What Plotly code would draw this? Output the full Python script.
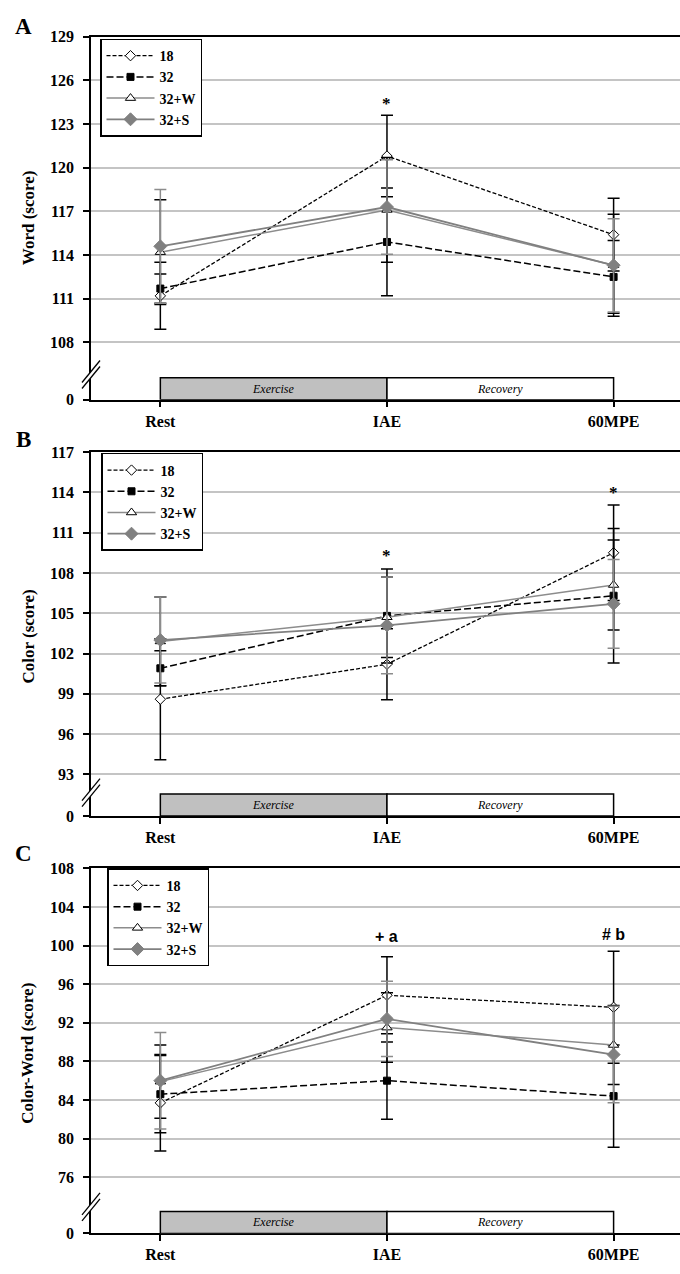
import plotly.graph_objects as go

# ---------------- data ----------------
time_points = ["Rest", "IAE", "60MPE"]
groups = ["18", "32", "32+W", "32+S"]

# Panel A : Word (score)
word_18 = [111.2, 120.8, 115.4]
word_32 = [111.7, 114.9, 112.5]
word_32w = [114.2, 117.1, 113.3]
word_32s = [114.6, 117.3, 113.3]
word_sd_18 = [2.3, 2.8, 2.5]
word_sd_32 = [1.0, 3.7, 2.5]
word_sd_32w = [3.6, 3.6, 3.5]
word_sd_32s = [3.9, 3.25, 3.2]
word_ticks = [108, 111, 114, 117, 120, 123, 126, 129]

# Panel B : Color (score)
color_18 = [98.6, 101.2, 109.5]
color_32 = [100.9, 104.8, 106.3]
color_32w = [102.9, 104.7, 107.1]
color_32s = [103.0, 104.1, 105.7]
color_sd_18 = [4.5, 2.65, 3.55]
color_sd_32 = [1.3, 3.5, 5.0]
color_sd_32w = [3.3, 3.0, 3.35]
color_sd_32s = [3.2, 3.6, 3.3]
color_ticks = [93, 96, 99, 102, 105, 108, 111, 114, 117]

# Panel C : Color-Word (score)
cw_18 = [83.7, 94.85, 93.6]
cw_32 = [84.6, 86.0, 84.4]
cw_32w = [85.9, 91.5, 89.7]
cw_32s = [86.0, 92.4, 88.7]
cw_sd_18 = [5.0, 4.0, 5.8]
cw_sd_32 = [4.0, 4.0, 5.3]
cw_sd_32w = [3.8, 3.6, 4.1]
cw_sd_32s = [5.0, 3.9, 5.0]
cw_ticks = [76, 80, 84, 88, 92, 96, 100, 104, 108]

# significance marks: (panel, time index, label, y value)
sig_marks = [
    (0, 1, "*", 124.6),
    (1, 1, "*", 109.5),
    (1, 2, "*", 114.2),
    (2, 1, "+ a", 100.9),
    (2, 2, "# b", 101.15),
]
phase_labels = ["Exercise", "Recovery"]

# ---------------- layout constants ----------------
W, H = 680, 1274
ML = 91
SERIF = "Liberation Serif"

panels = [
    dict(letter="A", title="Word (score)", top_px=29, bot_px=397, zero=104.07, top=129,
         ticks=word_ticks, data=[word_18, word_32, word_32w, word_32s],
         sd=[word_sd_18, word_sd_32, word_sd_32w, word_sd_32s],
         brk=105.8, title_y=213, letter_y=19,
         legend=dict(x=100, y=31)),
    dict(letter="B", title="Color (score)", top_px=450, bot_px=819, zero=89.9, top=117,
         ticks=color_ticks, data=[color_18, color_32, color_32w, color_32s],
         sd=[color_sd_18, color_sd_32, color_sd_32w, color_sd_32s],
         brk=91.65, title_y=637, letter_y=437,
         legend=dict(x=101, y=451)),
    dict(letter="C", title="Color-Word (score)", top_px=872, bot_px=1242, zero=70.17, top=108,
         ticks=cw_ticks, data=[cw_18, cw_32, cw_32w, cw_32s],
         sd=[cw_sd_18, cw_sd_32, cw_sd_32w, cw_sd_32s],
         brk=72.93, title_y=1060, letter_y=857,
         legend=dict(x=107, y=872)),
]

styles = [
    dict(line=dict(color="black", width=1.3, dash="4px,2px"),
         marker=dict(symbol="diamond", size=8, color="white", line=dict(color="black", width=1)),
         err="black"),
    dict(line=dict(color="black", width=1.5, dash="7px,3px"),
         marker=dict(symbol="square", size=7, color="black", line=dict(color="black", width=1)),
         err="black"),
    dict(line=dict(color="#8c8c8c", width=1.5),
         marker=dict(symbol="triangle-up", size=9, color="white", line=dict(color="black", width=1)),
         err="black"),
    dict(line=dict(color="#808080", width=1.8),
         marker=dict(symbol="diamond", size=10, color="#808080", line=dict(color="#808080", width=1)),
         err="#8c8c8c"),
]

x_idx = list(range(len(time_points)))
fig = go.Figure()

for p, pan in enumerate(panels):
    sfx = "" if p == 0 else str(p + 1)
    legname = "legend" if p == 0 else "legend" + sfx
    for g, name in enumerate(groups):
        st = styles[g]
        fig.add_trace(go.Scatter(
            x=x_idx, y=pan["data"][g], name=name, mode="lines+markers",
            line=st["line"], marker=st["marker"],
            error_y=dict(type="data", array=pan["sd"][g], visible=True,
                         color=st["err"], thickness=1.5, width=6),
            xaxis="x" + sfx, yaxis="y" + sfx, legend=legname,
            showlegend=True,
        ))

layout = dict(
    width=W, height=H, margin=dict(l=ML, r=0, t=0, b=0),
    paper_bgcolor="white", plot_bgcolor="white",
    font=dict(family=SERIF, color="black"),
    shapes=[], annotations=[],
)

for p, pan in enumerate(panels):
    sfx = "" if p == 0 else str(p + 1)
    dom = [1 - pan["bot_px"] / H, 1 - pan["top_px"] / H]
    layout["xaxis" + sfx] = dict(
        domain=[0, 1], anchor="y" + sfx, range=[-0.306, 2.293],
        tickvals=x_idx, ticktext=time_points, showgrid=False, zeroline=False,
        showline=True, mirror=True, linecolor="black", linewidth=1.5,
        ticks="outside", ticklen=6, tickwidth=1.5, tickcolor="black",
        tickfont=dict(family=SERIF, size=16, weight="bold"), ticklabelstandoff=0,
    )
    layout["yaxis" + sfx] = dict(
        domain=dom, anchor="x" + sfx, range=[pan["zero"], pan["top"]],
        tickvals=[pan["zero"]] + pan["ticks"], ticktext=["0"] + [str(t) for t in pan["ticks"]],
        showgrid=True, gridcolor="#c4c4c4", gridwidth=1.5, zeroline=False,
        showline=True, linecolor="black", linewidth=1.5,
        ticks="outside", ticklen=6, tickwidth=1.5, tickcolor="black",
        tickfont=dict(family=SERIF, size=16, weight="bold"), ticklabelstandoff=6,
    )
    legname = "legend" if p == 0 else "legend" + sfx
    layout[legname] = dict(
        x=(pan["legend"]["x"] - ML) / (W - ML), y=1 - pan["legend"]["y"] / H,
        xanchor="left", yanchor="top", bgcolor="white",
        bordercolor="black", borderwidth=1.5, itemwidth=48,
        font=dict(family=SERIF, size=14, weight="bold"), tracegroupgap=0,
    )
    xr, yr = "x" + sfx, "y" + sfx
    # phase bars
    fills = ["#c0c0c0", "white"]
    for k in range(2):
        layout["shapes"].append(dict(
            type="rect", xref=xr, x0=x_idx[k], x1=x_idx[k + 1],
            yref=yr, ysizemode="pixel", yanchor=pan["zero"], y0=0, y1=22,
            fillcolor=fills[k], line=dict(color="black", width=1.5), layer="above"))
        layout["annotations"].append(dict(
            xref=xr, yref=yr, x=(x_idx[k] + x_idx[k + 1]) / 2, y=pan["zero"], yshift=11,
            yanchor="middle", text=phase_labels[k], showarrow=False,
            font=dict(family=SERIF, size=12, style="italic")))
    # axis break
    layout["shapes"].append(dict(
        type="path", xref=xr + " domain", xsizemode="pixel", xanchor=0,
        yref=yr, ysizemode="pixel", yanchor=pan["brk"],
        path="M -9,-14 L 9,8 L 9,14 L -9,-8 Z", fillcolor="white",
        line=dict(width=0), layer="above"))
    for off in (0, 6):
        layout["shapes"].append(dict(
            type="line", xref=xr + " domain", xsizemode="pixel", xanchor=0,
            x0=-9, x1=9, yref=yr, ysizemode="pixel", yanchor=pan["brk"],
            y0=-14 + off, y1=8 + off, line=dict(color="black", width=1.3), layer="above"))
    # titles and letters
    layout["annotations"].append(dict(
        xref="paper", yref="paper", x=(28 - ML) / (W - ML), y=1 - pan["title_y"] / H,
        text=pan["title"], textangle=-90, showarrow=False, xanchor="center", yanchor="middle",
        font=dict(family=SERIF, size=17, weight="bold")))
    layout["annotations"].append(dict(
        xref="paper", yref="paper", x=(23 - ML) / (W - ML), y=1 - pan["letter_y"] / H,
        text=pan["letter"], showarrow=False, xanchor="center", yanchor="middle",
        font=dict(family=SERIF, size=23, weight="bold")))

for (p, ti, lab, yv) in sig_marks:
    sfx = "" if p == 0 else str(p + 1)
    sans = lab != "*"
    layout["annotations"].append(dict(
        xref="x" + sfx, yref="y" + sfx, x=x_idx[ti], y=yv, text=lab, showarrow=False,
        xanchor="center", yanchor="middle", yshift=(0 if sans else -3),
        font=dict(family=("Liberation Sans" if sans else SERIF), size=(16 if sans else 17),
                  weight="bold")))

fig.update_layout(**layout)
fig.write_html("out.html")
